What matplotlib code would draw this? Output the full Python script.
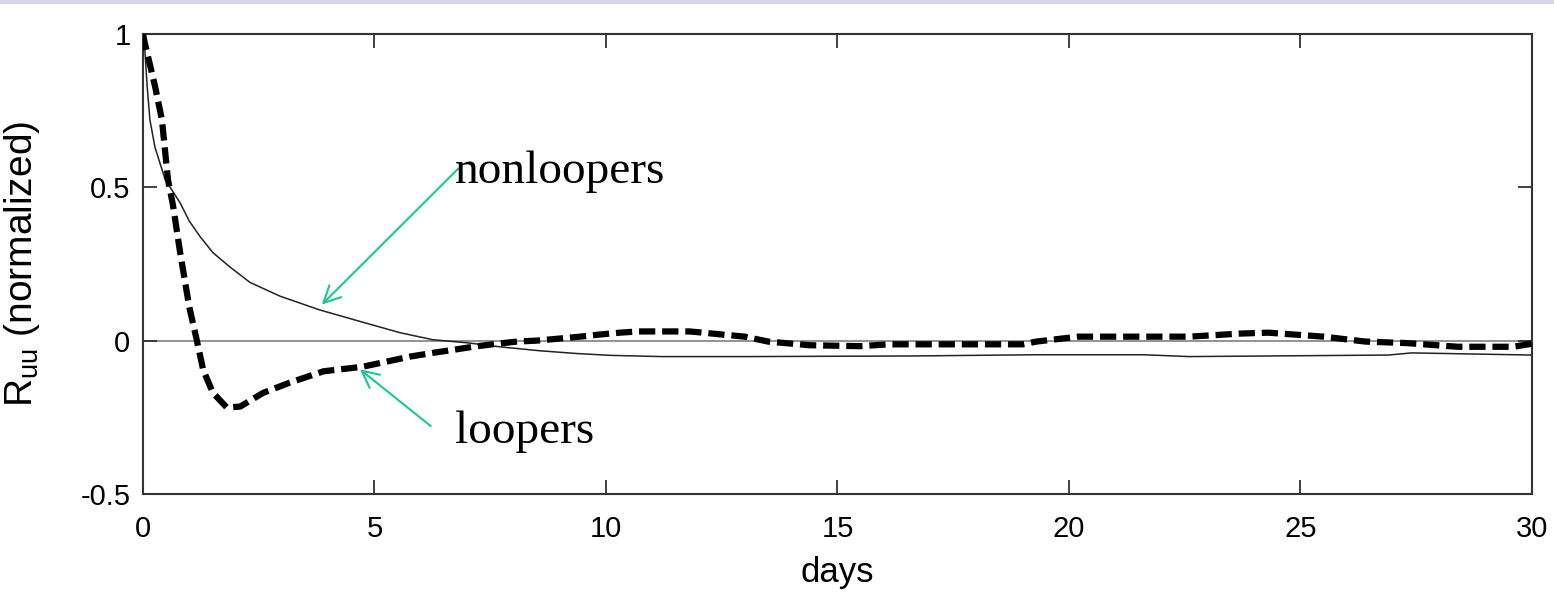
import matplotlib
matplotlib.use('Agg')
import matplotlib.pyplot as plt
from matplotlib.patches import Rectangle

# values
days_non = [0, 0.04, 0.09, 0.15, 0.26, 0.48, 0.8, 1.0, 1.23, 1.51, 1.88, 2.31, 2.96,
            3.82, 4.75, 5.55, 6.26, 7.0, 7.7, 8.57, 9.37, 10.1, 11.2, 13.1, 16.6,
            19.3, 21.6, 22.6, 26.9, 27.4, 30]
r_non = [1.0, 0.95, 0.83, 0.72, 0.63, 0.525, 0.45, 0.39, 0.34, 0.287, 0.24, 0.19, 0.145,
         0.10, 0.06, 0.026, 0.003, -0.007, -0.02, -0.033, -0.042, -0.048, -0.052, -0.052, -0.05,
         -0.046, -0.046, -0.052, -0.047, -0.04, -0.047]

days_loop = [0, 0.04, 0.26, 0.41, 0.54, 0.65, 0.8, 1.0, 1.16, 1.3, 1.51, 1.81, 2.1,
             2.6, 3.17, 3.9, 4.75, 5.77, 6.26, 6.7, 7.13, 7.65, 8.08, 8.5, 8.94, 9.44,
             9.87, 10.3, 10.7, 11.8, 12.1, 12.5, 13.0, 13.5, 14.4, 15.5, 16.1, 19.0,
             19.3, 20.2, 22.6, 23.7, 24.3, 25.5, 26.4, 27.3, 28.4, 29.6, 30]
r_loop = [1.0, 0.97, 0.83, 0.72, 0.525, 0.44, 0.29, 0.11, 0.003, -0.095, -0.17, -0.218, -0.215,
          -0.17, -0.137, -0.10, -0.085, -0.052, -0.04, -0.03, -0.02, -0.01, -0.003, 0.0, 0.006, 0.013,
          0.02, 0.026, 0.03, 0.03, 0.026, 0.02, 0.013, -0.003, -0.015, -0.018, -0.012, -0.012,
          -0.003, 0.013, 0.013, 0.023, 0.026, 0.013, -0.003, -0.008, -0.02, -0.02, -0.01]

xticks = [0, 5, 10, 15, 20, 25, 30]
yticks = [-0.5, 0, 0.5, 1]
ytick_labels = ['-0.5', '0', '0.5', '1']

plt.rcParams['font.family'] = ['Liberation Sans', 'DejaVu Sans']

fig = plt.figure(figsize=(15.54, 5.93), dpi=100)
ax = fig.add_axes([0.092, 0.167, 0.8938, 0.7757])

# lavender strip along the top
fig.patches.append(Rectangle((0, 0.994), 1, 0.006, transform=fig.transFigure,
                             facecolor='#d4d4f0', edgecolor='none'))

ax.axhline(0, color='#8a8a8a', lw=1.3, zorder=1)
ax.plot(days_non, r_non, color='#222222', lw=1.1, zorder=2)
ax.plot(days_loop, r_loop, color='black', lw=4.5, dashes=(2.6, 1.1), zorder=3)

ax.set_xlim(0, 30)
ax.set_ylim(-0.5, 1)
ax.set_xticks(xticks)
ax.set_yticks(yticks)
ax.set_yticklabels(ytick_labels)
ax.tick_params(direction='in', length=10, width=1.3, top=True, right=True,
               labelsize=21, colors='#333333', labelcolor='black')
ax.tick_params(axis='x', pad=15)
ax.tick_params(axis='y', pad=9)
for sp in ax.spines.values():
    sp.set_linewidth(1.5)
    sp.set_color('#333333')

ax.set_xlabel('days', fontsize=25)
ax.xaxis.set_label_coords(0.5, -0.135)
ax.set_ylabel(r'$\mathregular{R_{uu}}$ (normalized)', fontsize=28)
ax.yaxis.set_label_coords(-0.073, 0.5)

green = '#19c896'
ax.annotate('', xy=(3.82, 0.111), xytext=(6.85, 0.567),
            arrowprops=dict(arrowstyle='->', color=green, lw=1.5, mutation_scale=30))
ax.annotate('', xy=(4.64, -0.088), xytext=(6.26, -0.284),
            arrowprops=dict(arrowstyle='->', color=green, lw=1.5, mutation_scale=30))
ax.text(6.74, 0.515, 'nonloopers', fontsize=34, family='Liberation Serif',
        va='baseline', ha='left')
ax.text(6.74, -0.333, 'loopers', fontsize=34, family='Liberation Serif',
        va='baseline', ha='left')

fig.savefig('out.png', dpi=100)
